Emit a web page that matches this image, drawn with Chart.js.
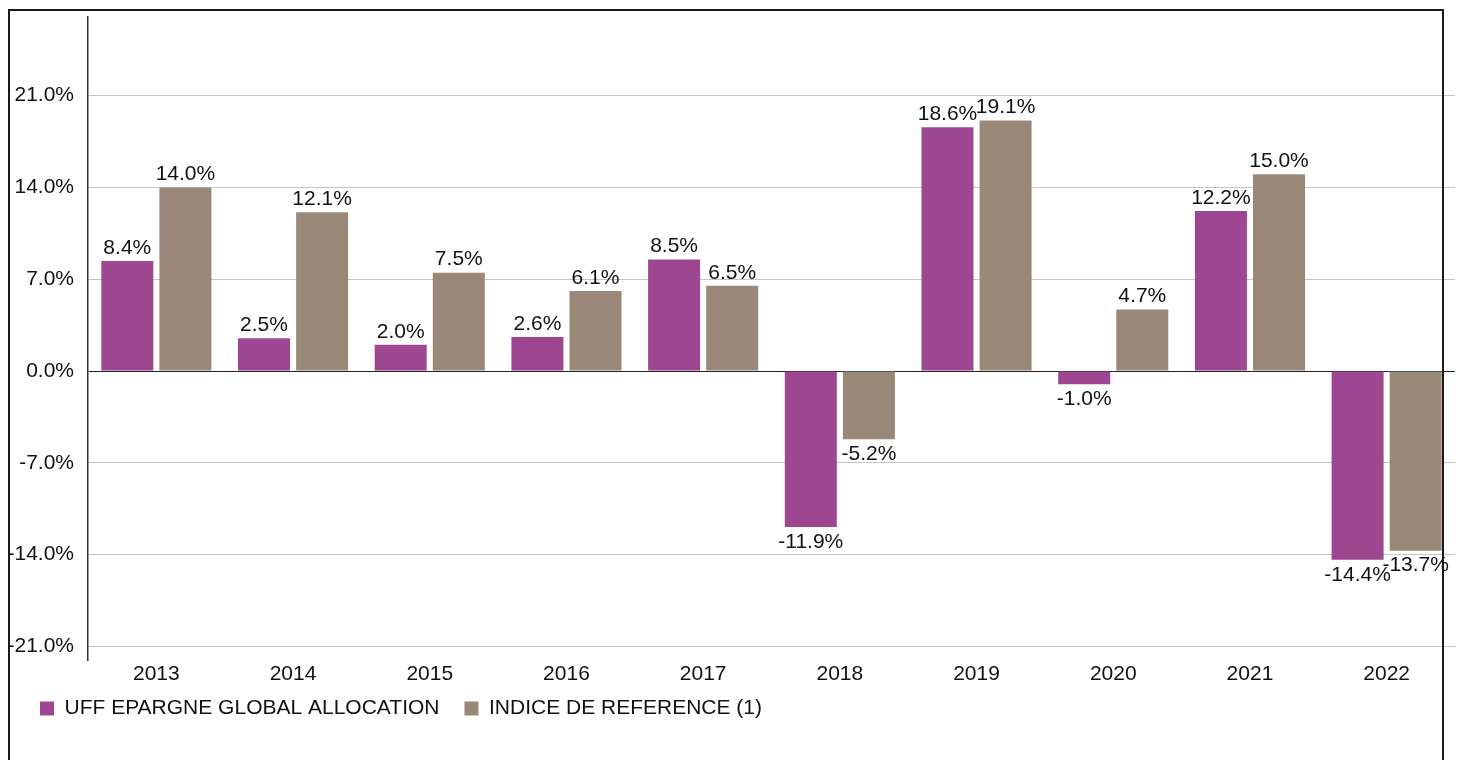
<!DOCTYPE html>
<html>
<head>
<meta charset="utf-8">
<script src="https://cdn.jsdelivr.net/npm/chart.js@4.4.0/dist/chart.umd.min.js"></script>
<style>
  body { margin: 0; background: #fff; }
  #wrap { position: relative; width: 1461px; height: 760px; overflow: hidden; }
  #frame { position: absolute; left: 8px; top: 9px; width: 1436px; height: 800px;
           border: 2px solid #1a1a1a; box-sizing: border-box; pointer-events: none; }
  canvas { position: absolute; left: 0; top: 0; }
</style>
</head>
<body>
<div id="wrap">
  <canvas id="myChart" width="1461" height="760"></canvas>
  <div id="frame"></div>
</div>
<script>
let annees = ["2013", "2014", "2015", "2016", "2017", "2018", "2019", "2020", "2021", "2022"]
let perfFonds = [8.4, 2.5, 2.0, 2.6, 8.5, -11.9, 18.6, -1.0, 12.2, -14.4]
let perfIndice = [14.0, 12.1, 7.5, 6.1, 6.5, -5.2, 19.1, 4.7, 15.0, -13.7]
let graduations = [-21, -14, -7, 0, 7, 14, 21]

const police = "'Liberation Sans', Arial, sans-serif"
const taille = 21

// étiquettes au-dessus / en-dessous des barres
const etiquettes = {
    id: 'etiquettes',
    afterDatasetsDraw(chart) {
        const ctx = chart.ctx
        ctx.save()
        ctx.font = taille + "px " + police
        ctx.fillStyle = "#111"
        ctx.textAlign = "center"
        ctx.textBaseline = "middle"
        chart.data.datasets.forEach((ds, i) => {
            chart.getDatasetMeta(i).data.forEach((bar, j) => {
                const v = ds.data[j]
                const y = v >= 0 ? bar.y - 13 : bar.y + 15
                ctx.fillText(v.toFixed(1) + "%", bar.x, y)
            })
        })
        ctx.restore()
    }
}

// décale la légende (droite et haut)
const decaleLegende = {
    id: 'decaleLegende',
    afterLayout(chart) {
        chart.legend.left += 15
        chart.legend.top -= 15
    }
}

const data = {
    labels: annees,
    datasets: [{
        label: 'UFF EPARGNE GLOBAL ALLOCATION',
        data: perfFonds,
        backgroundColor: "#9e4791"
    }, {
        label: 'INDICE DE REFERENCE (1)',
        data: perfIndice,
        backgroundColor: "#998877"
    }]
}

const config = {
    type: 'bar',
    data: data,
    plugins: [etiquettes, decaleLegende],
    options: {
        responsive: false,
        animation: false,
        categoryPercentage: 0.85,
        barPercentage: 0.895,
        layout: { padding: { top: 17, right: 6, left: 0, bottom: 16 } },
        plugins: {
            tooltip: { enabled: false },
            legend: {
                position: 'bottom',
                align: 'start',
                labels: {
                    boxWidth: 14,
                    boxHeight: 14,
                    padding: 25,
                    color: "#111",
                    font: { family: police, size: taille }
                }
            }
        },
        scales: {
            x: {
                grid: { display: false, drawTicks: false },
                border: { display: false },
                ticks: { color: "#111", padding: 1, font: { family: police, size: taille } }
            },
            y: {
                min: -22.1,
                max: 27,
                afterBuildTicks(scale) {
                    scale.ticks = graduations.map((v) => ({ value: v }))
                },
                afterFit(scale) {
                    scale.width = 88
                    scale.paddingTop = 0
                    scale.paddingBottom = 0
                },
                border: { color: "#333", width: 1.5 },
                grid: {
                    drawTicks: false,
                    color: (c) => c.tick && c.tick.value === 0 ? "#222" : "#c4c4c4",
                    lineWidth: 1
                },
                ticks: {
                    color: "#111",
                    padding: 14,
                    font: { family: police, size: taille },
                    callback: (v) => v.toFixed(1) + "%"
                }
            }
        }
    }
}

new Chart(document.getElementById('myChart'), config)
</script>
</body>
</html>
